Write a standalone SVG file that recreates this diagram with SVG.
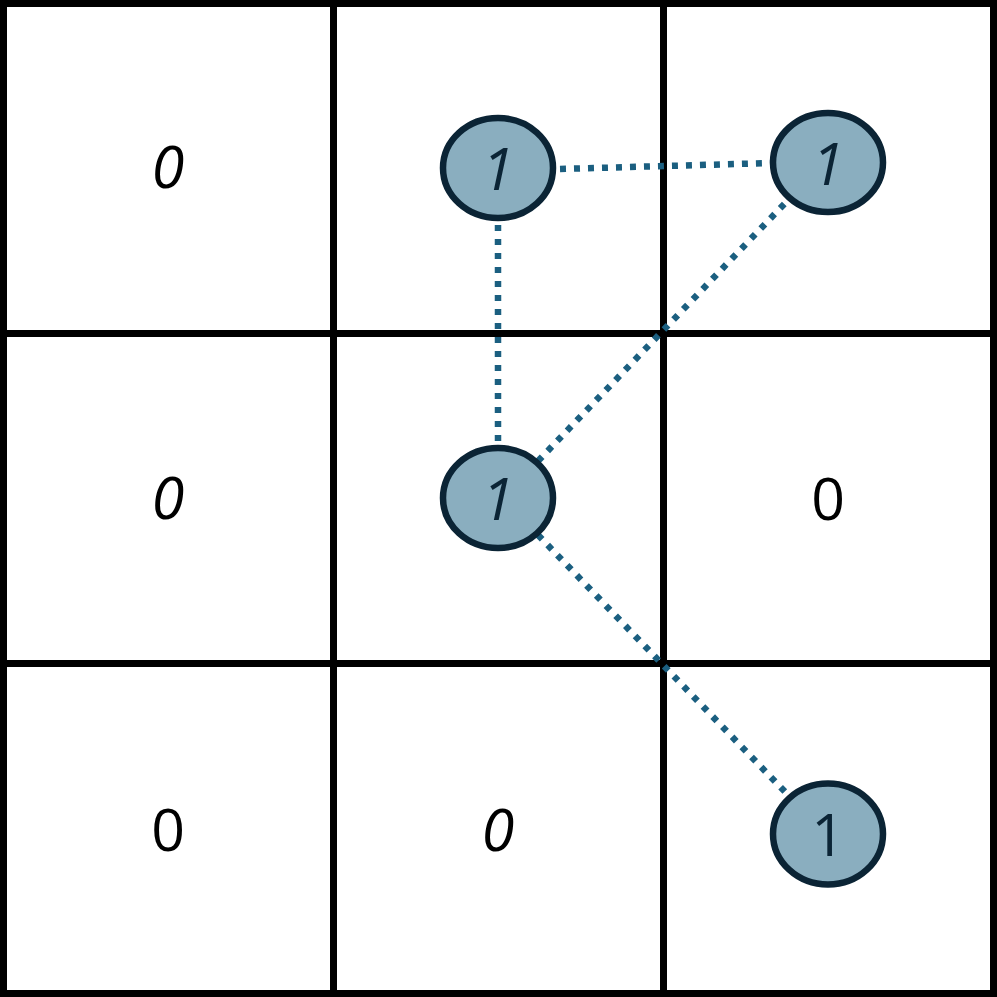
<svg xmlns="http://www.w3.org/2000/svg" width="997" height="997" viewBox="0 0 997 997">
<style>
.grid{fill:none;stroke:#000;stroke-width:7}
.conn{stroke:#1b5f80;stroke-width:6.5;stroke-dasharray:6 8;fill:none}
.node{fill:#8aaebf;stroke:#0b2435;stroke-width:6.5}
.t{font-family:"Open Sans","Liberation Sans",sans-serif;font-size:59px;text-anchor:middle}
.i{font-style:italic}
.n{fill:#0b2435}
</style>
<rect width="997" height="997" fill="#fff"/>
<g id="grid">
<rect class="grid" x="3.5" y="3.5" width="990" height="990"/>
<line class="grid" x1="333.5" y1="0" x2="333.5" y2="997"/>
<line class="grid" x1="663.5" y1="0" x2="663.5" y2="997"/>
<line class="grid" x1="0" y1="333.5" x2="997" y2="333.5"/>
<line class="grid" x1="0" y1="663.5" x2="997" y2="663.5"/>
</g>
<g id="cells">
<text class="t i" x="168" y="188">0</text>
<text class="t i" x="168" y="519">0</text>
<text class="t" x="828" y="520">0</text>
<text class="t" x="168" y="851">0</text>
<text class="t i" x="498" y="851">0</text>
</g>
<g id="connectors">
<line class="conn" x1="560" y1="169" x2="772" y2="163"/>
<line class="conn" x1="498" y1="225" x2="498" y2="446"/>
<line class="conn" x1="538" y1="461" x2="790" y2="198"/>
<line class="conn" x1="538" y1="535" x2="790" y2="797"/>
</g>
<g id="node-a"><ellipse class="node" cx="498" cy="168" rx="55" ry="50"/><text class="t i n" x="498" y="190">1</text></g>
<g id="node-b"><ellipse class="node" cx="828" cy="162.5" rx="55" ry="49.5"/><text class="t i n" x="828" y="185">1</text></g>
<g id="node-c"><ellipse class="node" cx="498" cy="498" rx="55" ry="50"/><text class="t i n" x="498" y="520">1</text></g>
<g id="node-d"><ellipse class="node" cx="828" cy="834" rx="55" ry="50.5"/><text class="t n" x="828" y="856">1</text></g>
</svg>
